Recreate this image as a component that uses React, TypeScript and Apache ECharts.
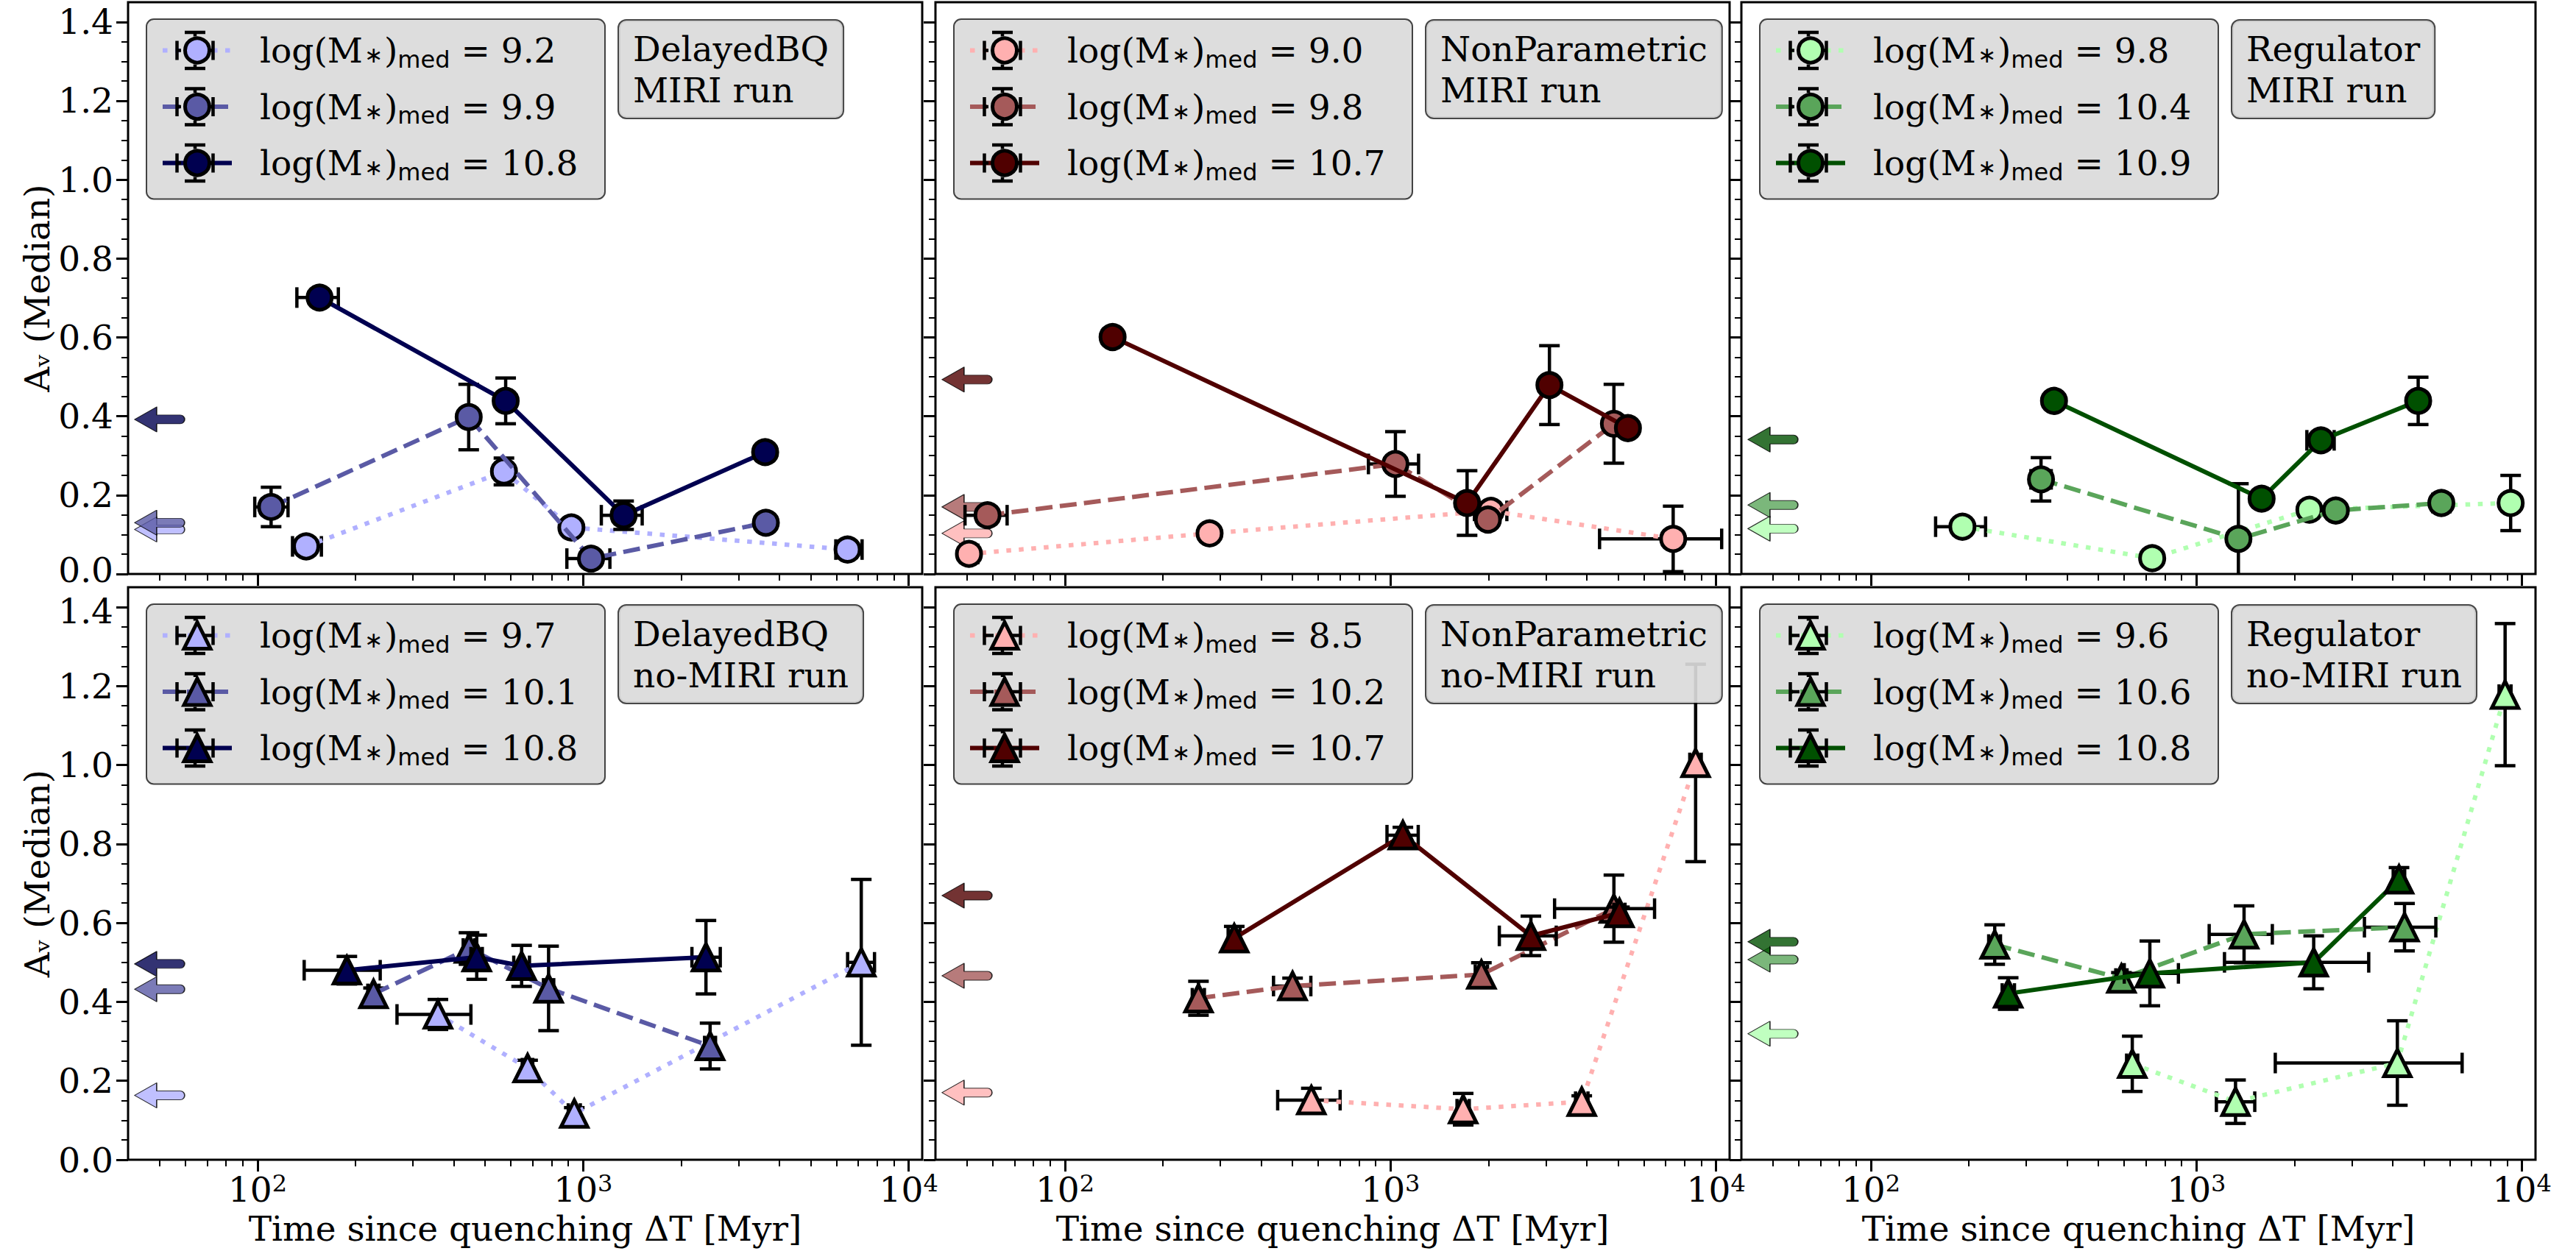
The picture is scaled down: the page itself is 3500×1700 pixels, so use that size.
import React, { useEffect, useRef } from "react";
import * as echarts from "echarts";

// [x (Myr), A_v median, y error (symmetric), x error low bound, x error high bound]
type Pt = [number, number, number, number, number];

// ---------- axes ----------
const X_MIN = 40;
const X_MAX = 11000;
const Y_MIN = 0;
const Y_MAX = 1.45;
const X_MAJOR = [100, 1000, 10000];
const Y_MAJOR = [0, 0.2, 0.4, 0.6, 0.8, 1.0, 1.2, 1.4];
const X_TITLE = "Time since quenching ΔT [Myr]";
const Y_TITLE = "Aᵥ (Median)";

// ---------- panel labels ----------
const MODEL_NAMES = ["DelayedBQ", "NonParametric", "Regulator"];
const RUN_NAMES = ["MIRI run", "no-MIRI run"];

// ---------- legend masses (low, mid, high) ----------
const MASS_DBQ_MIRI = ["9.2", "9.9", "10.8"];
const MASS_NP_MIRI = ["9.0", "9.8", "10.7"];
const MASS_REG_MIRI = ["9.8", "10.4", "10.9"];
const MASS_DBQ_NOMIRI = ["9.7", "10.1", "10.8"];
const MASS_NP_NOMIRI = ["8.5", "10.2", "10.7"];
const MASS_REG_NOMIRI = ["9.6", "10.6", "10.8"];

// ---------- arrow levels (low, mid, high) ----------
const ARROW_DBQ_MIRI = [0.113, 0.13, 0.392];
const ARROW_NP_MIRI = [0.103, 0.17, 0.493];
const ARROW_REG_MIRI = [0.115, 0.175, 0.341];
const ARROW_DBQ_NOMIRI = [0.163, 0.432, 0.496];
const ARROW_NP_NOMIRI = [0.17, 0.466, 0.669];
const ARROW_REG_NOMIRI = [0.319, 0.507, 0.552];

// ---------- DelayedBQ, MIRI ----------
const DBQ_MIRI_LO: Pt[] = [
  [141, 0.07, 0.015, 128, 157],
  [571, 0.26, 0.034, 545, 598],
  [920, 0.118, 0.015, 880, 960],
  [6488, 0.062, 0.02, 5970, 7190],
];
const DBQ_MIRI_MID: Pt[] = [
  [110, 0.17, 0.05, 98, 124],
  [445, 0.398, 0.083, 425, 465],
  [1057, 0.039, 0.015, 891, 1208],
  [3640, 0.13, 0.015, 3450, 3830],
];
const DBQ_MIRI_HI: Pt[] = [
  [155, 0.701, 0.012, 132, 177],
  [578, 0.439, 0.058, 550, 605],
  [1331, 0.149, 0.036, 1137, 1518],
  [3622, 0.309, 0.015, 3450, 3800],
];

// ---------- NonParametric, MIRI ----------
const NP_MIRI_LO: Pt[] = [
  [50.7, 0.051, 0.015, 48, 54],
  [278, 0.103, 0.015, 265, 292],
  [2033, 0.16, 0.02, 1810, 2276],
  [7380, 0.089, 0.083, 4385, 10400],
];
const NP_MIRI_MID: Pt[] = [
  [57.8, 0.149, 0.015, 49.3, 66.4],
  [1035, 0.279, 0.082, 855, 1219],
  [1991, 0.138, 0.015, 1900, 2090],
  [4853, 0.381, 0.1, 4650, 5050],
];
const NP_MIRI_HI: Pt[] = [
  [140, 0.601, 0.012, 134, 147],
  [1718, 0.18, 0.082, 1640, 1800],
  [3076, 0.479, 0.1, 2950, 3200],
  [5359, 0.37, 0.015, 5150, 5550],
];

// ---------- Regulator, MIRI ----------
const REG_MIRI_LO: Pt[] = [
  [191, 0.12, 0.015, 158, 225],
  [731, 0.04, 0.015, 700, 765],
  [2223, 0.163, 0.02, 2120, 2330],
  [9226, 0.18, 0.07, 8850, 9600],
];
const REG_MIRI_MID: Pt[] = [
  [333, 0.24, 0.055, 310, 358],
  [1345, 0.089, 0.14, 1290, 1400],
  [2679, 0.161, 0.015, 2560, 2800],
  [5652, 0.18, 0.022, 5400, 5900],
];
const REG_MIRI_HI: Pt[] = [
  [365, 0.439, 0.015, 350, 380],
  [1585, 0.191, 0.015, 1520, 1650],
  [2411, 0.339, 0.015, 2183, 2648],
  [4797, 0.439, 0.06, 4600, 5000],
];

// ---------- DelayedBQ, no-MIRI ----------
const DBQ_NOMIRI_LO: Pt[] = [
  [358, 0.368, 0.038, 268, 452],
  [675, 0.232, 0.02, 650, 700],
  [939, 0.117, 0.015, 900, 980],
  [7148, 0.5, 0.21, 6490, 7850],
];
const DBQ_NOMIRI_MID: Pt[] = [
  [227, 0.42, 0.015, 218, 236],
  [446, 0.535, 0.04, 428, 465],
  [783, 0.434, 0.107, 755, 812],
  [2454, 0.288, 0.058, 2360, 2550],
];
const DBQ_NOMIRI_HI: Pt[] = [
  [188, 0.48, 0.035, 139, 238],
  [471, 0.513, 0.056, 452, 490],
  [647, 0.491, 0.052, 612, 684],
  [2383, 0.513, 0.093, 2158, 2637],
];

// ---------- NonParametric, no-MIRI ----------
const NP_NOMIRI_LO: Pt[] = [
  [571, 0.151, 0.03, 450, 700],
  [1671, 0.128, 0.04, 1600, 1745],
  [3866, 0.147, 0.015, 3700, 4040],
  [8650, 1.005, 0.25, 8300, 9000],
];
const NP_NOMIRI_MID: Pt[] = [
  [257, 0.409, 0.043, 246, 268],
  [500, 0.44, 0.02, 437, 569],
  [1901, 0.469, 0.03, 1820, 1985],
  [4853, 0.636, 0.085, 3190, 6470],
];
const NP_NOMIRI_HI: Pt[] = [
  [331, 0.561, 0.03, 317, 345],
  [1091, 0.822, 0.02, 975, 1216],
  [2698, 0.567, 0.05, 2158, 3228],
  [5047, 0.625, 0.015, 4850, 5250],
];

// ---------- Regulator, no-MIRI ----------
const REG_NOMIRI_LO: Pt[] = [
  [635, 0.243, 0.07, 610, 660],
  [1318, 0.147, 0.055, 1151, 1510],
  [4140, 0.245, 0.107, 1746, 6546],
  [8871, 1.178, 0.18, 8500, 9250],
];
const REG_NOMIRI_MID: Pt[] = [
  [240, 0.545, 0.05, 230, 250],
  [588, 0.459, 0.015, 565, 612],
  [1400, 0.571, 0.072, 1094, 1710],
  [4355, 0.589, 0.06, 3280, 5435],
];
const REG_NOMIRI_HI: Pt[] = [
  [264, 0.421, 0.04, 253, 276],
  [719, 0.472, 0.082, 600, 880],
  [2291, 0.5, 0.067, 1219, 3381],
  [4189, 0.71, 0.03, 4020, 4360],
];

// ---------- styles ----------
const BLUES = ["#b0b0ff", "#5a5aa5", "#000050"];
const REDS = ["#ffb0b0", "#a55a5a", "#500000"];
const GREENS = ["#b0ffb0", "#5aa55a", "#005000"];
const LINE_W = 6;
const LINE_TYPES: any[] = [[6.5, 10.5], [23, 10], "solid"];
const FONT = "DejaVu Serif";
const SANS = "DejaVu Sans";
const FS = 47;
const BOX_FILL = "rgba(218,218,218,0.92)";
const BOX_EDGE = "rgba(0,0,0,0.72)";
const ERR_W = 4.5;
const CAP = 14;

const COL_LEFT = [174, 1271, 2366];
const GRID_W = 1079;
const ROW_TOP = [3, 798];
const GRID_H = [777, 778];
const ARROW_X = 50;
const ARROW_PATH =
  "path://M0,17 L30,0 L30,11 L62,11 A6,6 0 0 1 62,23 L30,23 L30,34 Z";

// legend layout
const LEG_DX = 25;
const LEG_DY = 23;
const LEG_PAD = [14.5, 19, 21, 19];
const LEG_ITEM_W = 94;
const LEG_ROW = 56;
const LEG_GAP = 20.5;

const PANELS = [
  { key: "dbqM", model: 0, run: 0, masses: MASS_DBQ_MIRI, arrows: ARROW_DBQ_MIRI, pts: [DBQ_MIRI_LO, DBQ_MIRI_MID, DBQ_MIRI_HI], colors: BLUES },
  { key: "npM", model: 1, run: 0, masses: MASS_NP_MIRI, arrows: ARROW_NP_MIRI, pts: [NP_MIRI_LO, NP_MIRI_MID, NP_MIRI_HI], colors: REDS },
  { key: "regM", model: 2, run: 0, masses: MASS_REG_MIRI, arrows: ARROW_REG_MIRI, pts: [REG_MIRI_LO, REG_MIRI_MID, REG_MIRI_HI], colors: GREENS },
  { key: "dbqN", model: 0, run: 1, masses: MASS_DBQ_NOMIRI, arrows: ARROW_DBQ_NOMIRI, pts: [DBQ_NOMIRI_LO, DBQ_NOMIRI_MID, DBQ_NOMIRI_HI], colors: BLUES },
  { key: "npN", model: 1, run: 1, masses: MASS_NP_NOMIRI, arrows: ARROW_NP_NOMIRI, pts: [NP_NOMIRI_LO, NP_NOMIRI_MID, NP_NOMIRI_HI], colors: REDS },
  { key: "regN", model: 2, run: 1, masses: MASS_REG_NOMIRI, arrows: ARROW_REG_NOMIRI, pts: [REG_NOMIRI_LO, REG_NOMIRI_MID, REG_NOMIRI_HI], colors: GREENS },
];

function minorX(): number[] {
  const out: number[] = [];
  [10, 100, 1000].forEach((d) => {
    for (let m = 2; m <= 9; m++) {
      const v = m * d;
      if (v > X_MIN && v < X_MAX) out.push(v);
    }
  });
  return out;
}
function minorY(): number[] {
  const out: number[] = [];
  for (let k = 1; k < 29; k++) if (k % 4 !== 0) out.push(+(k * 0.05).toFixed(2));
  return out;
}

const errStyle = { stroke: "#000", lineWidth: ERR_W, fill: null };
const seg = (x1: number, y1: number, x2: number, y2: number, z?: number) => {
  const o: any = { type: "line", shape: { x1, y1, x2, y2 }, style: errStyle };
  if (z !== undefined) {
    o.z = z;
    o.silent = true;
  }
  return o;
};

const errorRender = (params: any, api: any) => {
  const x = api.value(0);
  const y = api.value(1);
  const ye = api.value(2);
  const xl = api.value(3);
  const xh = api.value(4);
  const c = api.coord([x, y]);
  const t = api.coord([x, y + ye]);
  const b = api.coord([x, y - ye]);
  const l = api.coord([xl, y]);
  const r = api.coord([xh, y]);
  return {
    type: "group",
    children: [
      seg(c[0], t[1], c[0], b[1]),
      seg(c[0] - CAP, t[1], c[0] + CAP, t[1]),
      seg(c[0] - CAP, b[1], c[0] + CAP, b[1]),
      seg(l[0], c[1], r[0], c[1]),
      seg(l[0], c[1] - CAP, l[0], c[1] + CAP),
      seg(r[0], c[1] - CAP, r[0], c[1] + CAP),
    ],
  };
};

// error-bar glyph drawn around each legend marker (only the parts outside the marker)
function legendGlyph(cx: number, cy: number, tri: boolean, z: number): any[] {
  const ey = 24.5;
  const ex = 24.5;
  const inTop = tri ? 20 : 19;
  const inBot = tri ? 20.5 : 19;
  const inSide = tri ? 12 : 19;
  return [
    seg(cx, cy - ey, cx, cy - inTop, z),
    seg(cx, cy + inBot, cx, cy + ey, z),
    seg(cx - CAP, cy - ey, cx + CAP, cy - ey, z),
    seg(cx - CAP, cy + ey, cx + CAP, cy + ey, z),
    seg(cx - ex, cy, cx - inSide, cy, z),
    seg(cx + inSide, cy, cx + ex, cy, z),
    seg(cx - ex, cy - CAP + 1, cx - ex, cy + CAP - 1, z),
    seg(cx + ex, cy - CAP + 1, cx + ex, cy + CAP - 1, z),
  ];
}

const legendFormatter = (name: string) => {
  const m = name.split("|")[1];
  return `{t|log(M}{st|∗}{t|)}{sb|med}{t| = ${m}}`;
};

function buildOption() {
  const grid: any[] = [];
  const xAxis: any[] = [];
  const yAxis: any[] = [];
  const series: any[] = [];
  const legend: any[] = [];
  const graphic: any[] = [];
  const XMIN = minorX();
  const YMIN = minorY();

  PANELS.forEach((p, i) => {
    const r = p.run;
    const c = p.model;
    const left = COL_LEFT[c];
    const top = ROW_TOP[r];
    grid.push({
      left,
      top,
      width: GRID_W,
      height: GRID_H[r],
      show: true,
      borderColor: "#000",
      borderWidth: 3,
      backgroundColor: "transparent",
      containLabel: false,
      outerBoundsMode: "none",
    });
    const xBase = {
      type: "log",
      logBase: 10,
      gridIndex: i,
      min: X_MIN,
      max: X_MAX,
      position: "bottom",
      axisLine: { show: false },
      splitLine: { show: false },
      minorTick: { show: false },
      minorSplitLine: { show: false },
    };
    xAxis.push({
      ...xBase,
      axisTick: { show: true, inside: false, length: 16, lineStyle: { color: "#000", width: 3 }, customValues: X_MAJOR },
      axisLabel: {
        show: r === 1,
        customValues: X_MAJOR,
        margin: 12,
        formatter: (v: number) => `{b|10}{s|${Math.round(Math.log10(v))}}`,
        rich: {
          b: { fontFamily: FONT, fontSize: FS, lineHeight: 56, color: "#000" },
          s: { fontFamily: FONT, fontSize: 32, lineHeight: 56, color: "#000", padding: [0, 0, 16, 0] },
        },
      },
      name: r === 1 ? X_TITLE : "",
      nameLocation: "middle",
      nameGap: 70,
      nameTextStyle: { fontFamily: FONT, fontSize: FS, color: "#000" },
    });
    xAxis.push({
      ...xBase,
      axisTick: { show: true, inside: false, length: 9, lineStyle: { color: "#000", width: 2 }, customValues: XMIN },
      axisLabel: { show: false },
    });
    const yBase = {
      type: "value",
      gridIndex: i,
      min: Y_MIN,
      max: Y_MAX,
      position: "left",
      axisLine: { show: false },
      splitLine: { show: false },
      minorTick: { show: false },
    };
    yAxis.push({
      ...yBase,
      axisTick: { show: true, inside: false, length: 16, lineStyle: { color: "#000", width: 3 }, customValues: Y_MAJOR },
      axisLabel: {
        show: c === 0,
        customValues: Y_MAJOR,
        margin: 20,
        // the bottom "0.0" of the upper row and the top "1.4" of the lower row sit
        // close together; nudge them a few pixels apart
        formatter: (v: number) => {
          const s = v.toFixed(1);
          if (r === 0 && v === Y_MAJOR[0]) return `{lo|${s}}`;
          if (r === 1 && v === Y_MAJOR[Y_MAJOR.length - 1]) return `{hi|${s}}`;
          return s;
        },
        fontFamily: FONT,
        fontSize: FS,
        lineHeight: 38,
        color: "#000",
        rich: {
          lo: { fontFamily: FONT, fontSize: FS, color: "#000", padding: [0, 0, 12, 0] },
          hi: { fontFamily: FONT, fontSize: FS, color: "#000", padding: [12, 0, 0, 0] },
        },
      },
      name: c === 0 ? Y_TITLE : "",
      nameLocation: "middle",
      nameGap: 100,
      nameRotate: 90,
      nameTextStyle: { fontFamily: FONT, fontSize: FS, color: "#000" },
    });
    yAxis.push({
      ...yBase,
      axisTick: { show: true, inside: false, length: 9, lineStyle: { color: "#000", width: 2 }, customValues: YMIN },
      axisLabel: { show: false },
    });

    const xi = 2 * i;
    const yi = 2 * i;
    const tri = r === 1;
    const symbol = tri ? "triangle" : "circle";
    const symbolSize = tri ? 36 : 33;

    // arrows (left-pointing markers), light to dark
    p.arrows.forEach((v, k) => {
      series.push({
        type: "scatter",
        name: `${p.key}|arrow${k}`,
        xAxisIndex: xi,
        yAxisIndex: yi,
        symbol: ARROW_PATH,
        symbolSize: [68, 34],
        symbolKeepAspect: false,
        itemStyle: { color: p.colors[k], borderColor: "#000", borderWidth: 1.2, borderJoin: "round" },
        data: [[ARROW_X, v]],
        z: 1.5,
        silent: true,
        clip: false,
      });
    });

    const names: string[] = [];
    p.pts.forEach((pts, k) => {
      series.push({
        type: "custom",
        name: `${p.key}|err${k}`,
        xAxisIndex: xi,
        yAxisIndex: yi,
        renderItem: errorRender,
        encode: { x: 0, y: 1 },
        data: pts,
        clip: true,
        silent: true,
        z: 2 + 0.3 * k,
      });
      const nm = `${p.key}|${p.masses[k]}`;
      names.push(nm);
      series.push({
        type: "line",
        name: nm,
        xAxisIndex: xi,
        yAxisIndex: yi,
        data: pts.map((q) => [q[0], q[1]]),
        symbol,
        symbolSize,
        showSymbol: true,
        lineStyle: { color: p.colors[k], width: LINE_W, type: LINE_TYPES[k], cap: "butt" },
        itemStyle: { color: p.colors[k], borderColor: "#000", borderWidth: 5 },
        z: 2.1 + 0.3 * k,
        silent: true,
      });
    });

    const legLeft = left + LEG_DX;
    const legTop = top + LEG_DY;
    legend.push({
      z: 10,
      left: legLeft,
      top: legTop,
      orient: "vertical",
      data: names,
      selectedMode: false,
      backgroundColor: BOX_FILL,
      borderColor: BOX_EDGE,
      borderWidth: 2,
      borderRadius: 10,
      padding: LEG_PAD,
      itemWidth: LEG_ITEM_W,
      itemHeight: tri ? 45 : 41.25,
      itemGap: LEG_GAP,
      lineStyle: { width: LINE_W },
      itemStyle: { borderWidth: 5, borderColor: "#000" },
      formatter: legendFormatter,
      textStyle: {
        fontFamily: FONT,
        fontSize: FS,
        color: "#000",
        width: 450,
        lineHeight: LEG_ROW,
        padding: [0, 0, 0, 33],
        rich: {
          t: { fontFamily: FONT, fontSize: FS, lineHeight: LEG_ROW, color: "#000" },
          st: { fontFamily: SANS, fontSize: 30, lineHeight: LEG_ROW, color: "#000", padding: [12, 2, 0, 2] },
          sb: { fontFamily: SANS, fontSize: 32, lineHeight: LEG_ROW, color: "#000", padding: [24, 0, 0, 0] },
        },
      },
    });

    // error-bar glyphs of the legend handles
    const gx = legLeft + LEG_PAD[3] + LEG_ITEM_W / 2;
    for (let k = 0; k < 3; k++) {
      const gy = legTop + LEG_PAD[0] + LEG_ROW / 2 + k * (LEG_ROW + LEG_GAP);
      legendGlyph(gx, gy, tri, 11).forEach((el) => graphic.push(el));
    }

    graphic.push({
      type: "text",
      left: left + 665,
      top: top + 23,
      z: 10,
      silent: true,
      style: {
        text: `${MODEL_NAMES[p.model]}\n${RUN_NAMES[p.run]}`,
        fontFamily: FONT,
        fontSize: FS,
        lineHeight: 56,
        fill: "#000",
        align: "center",
        backgroundColor: BOX_FILL,
        borderColor: BOX_EDGE,
        borderWidth: 2,
        borderRadius: 10,
        padding: [10, 19, 10, 19],
      },
    });
  });

  return {
    animation: false,
    backgroundColor: "#ffffff",
    grid,
    xAxis,
    yAxis,
    legend,
    graphic,
    series,
  };
}

export default function App() {
  const ref = useRef<HTMLDivElement>(null);
  useEffect(() => {
    if (!ref.current) return;
    const chart = echarts.init(ref.current, null, { renderer: "svg" });
    chart.setOption(buildOption() as any);
    return () => chart.dispose();
  }, []);
  return (
    <div
      ref={ref}
      style={{ position: "fixed", left: 0, top: 0, width: 3500, height: 1700, background: "#fff" }}
    />
  );
}
